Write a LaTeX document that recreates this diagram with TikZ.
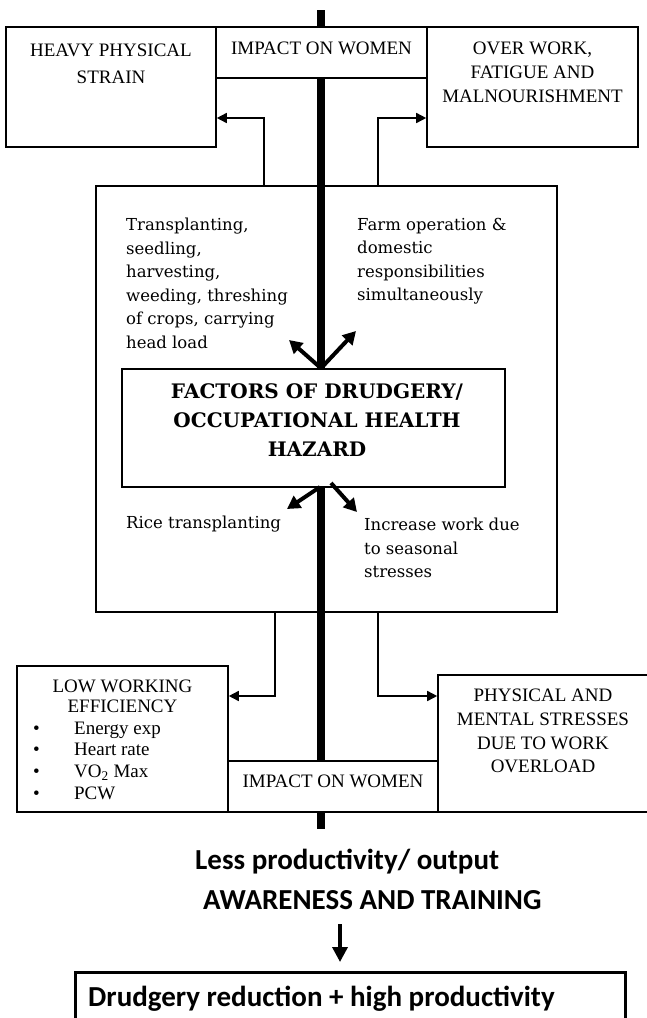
\documentclass[tikz,border=0pt]{standalone}
\usepackage{fontspec}
\setmainfont{Liberation Serif}
\newfontfamily\calib{Carlito}
\newfontfamily\dvs{DejaVu Serif}
\usetikzlibrary{arrows.meta}
\begin{document}
\begin{tikzpicture}[x=1pt,y=-1pt,
  box/.style={draw, line width=1.6pt, fill=white, inner sep=0pt},
  conn/.style={line width=1.6pt, -{Triangle[length=10pt,width=10pt]}},
  spine/.style={line width=7.5pt},
  fat/.style={line width=4pt, -{Triangle[length=13pt,width=14pt]}},
  tnr/.style={font=\fontsize{19}{23.5}\selectfont, align=center, inner sep=0pt, anchor=north},
  bk/.style={font=\dvs\fontsize{16.5}{23.5}\selectfont, align=left, inner sep=0pt, anchor=north west},
  cal/.style={font=\calib\bfseries\fontsize{29}{34}\selectfont, inner sep=0pt, anchor=west}]
\useasboundingbox (0,0) rectangle (646,1018);
\fill[white] (0,0) rectangle (646,1018);
% coordinates
\coordinate (top) at (321,10);
\coordinate (bot) at (321,829);
\coordinate (xa) at (264,0);
\coordinate (xb) at (378,0);
\coordinate (xc) at (275,0);
\coordinate (ya) at (0,118);
\coordinate (yb) at (0,696);
\coordinate (arEnd) at (340,962);
% big box
\node[box, minimum width=461pt, minimum height=426pt] (big) at (326.5,399) {};
\node[box, minimum width=383pt, minimum height=118pt] (fac) at (313.5,428) {};
% spine
\draw[spine] (top) -- (top |- fac.north);
\draw[spine] (top |- fac.south) -- (bot);
% top boxes
\node[box, minimum width=210pt, minimum height=120pt] (hps) at (111,87) {};
\node[box, minimum width=211pt, minimum height=51pt] (imp1) at (321.5,52.5) {};
\node[box, minimum width=211pt, minimum height=120pt] (ow) at (532.5,87) {};
% bottom boxes
\node[box, minimum width=211pt, minimum height=146pt] (lw) at (122.5,739) {};
\node[box, minimum width=210pt, minimum height=51pt] (imp2) at (333,786.5) {};
\node[box, minimum width=210pt, minimum height=137pt] (pm) at (543,743.5) {};
% texts
\node[tnr, font=\fontsize{19}{27}\selectfont] (t1) at (111,43.5) {HEAVY PHYSICAL\\STRAIN};
\node[tnr] (t2) at (321.5,41.5) {IMPACT ON WOMEN};
\node[tnr, font=\fontsize{19}{23.7}\selectfont] (t3) at (532.5,42) {OVER WORK,\\FATIGUE AND\\MALNOURISHMENT};
\node[tnr, font=\fontsize{19}{20}\selectfont] (t4) at (122.5,680) {LOW WORKING\\EFFICIENCY};
\node[tnr, anchor=north west, align=left, font=\fontsize{19}{21.7}\selectfont] (t5) at (33,721.5)
  {\makebox[41pt][l]{•}Energy exp\\\makebox[41pt][l]{•}Heart rate\\\makebox[41pt][l]{•}VO\textsubscript{2} Max\\\makebox[41pt][l]{•}PCW};
\node[tnr] (t6) at (333,775) {IMPACT ON WOMEN};
\node[tnr, font=\fontsize{19}{23.7}\selectfont] (t7) at (543,689) {PHYSICAL AND\\MENTAL STRESSES\\DUE TO WORK\\OVERLOAD};
\begin{scope}
\clip (96,186) rectangle (557,348);
\node[bk] (t8) at (126,218) {Transplanting,\\seedling,\\harvesting,\\weeding, threshing\\of crops, carrying\\head load};
\end{scope}
\node[bk] (t9) at (357,218) {Farm operation \&\\domestic\\responsibilities\\simultaneously};
\node[inner sep=0pt, anchor=north, align=center, font=\dvs\bfseries\fontsize{20}{29}\selectfont] (t10) at (317,383) {FACTORS OF DRUDGERY/\\OCCUPATIONAL HEALTH\\HAZARD};
\node[bk] (t11) at (126,516) {Rice transplanting};
\node[bk] (t12) at (364,518) {Increase work due\\to seasonal\\stresses};
% connectors
\draw[conn] (xa |- big.north) |- (hps.east |- ya);
\draw[conn] (xb |- big.north) |- (ow.west |- ya);
\draw[conn] (xc |- big.south) |- (lw.east |- yb);
\draw[conn] (xb |- big.south) |- (pm.west |- yb);
% diagonal arrows
\coordinate (d1) at (289,340);
\coordinate (d2) at (356,331);
\coordinate (d3) at (287,509);
\coordinate (d4) at (357,512);
\coordinate (s3) at (320,487);
\coordinate (s4) at (331,483);
\draw[fat] (top |- fac.north) -- (d1);
\draw[fat] (top |- fac.north) -- (d2);
\draw[fat] (s3) -- (d3);
\draw[fat] (s4) -- (d4);
% bottom
\node[cal] (less) at (195,862) {Less productivity/ output};
\node[cal] (aw) at (203,900) {AWARENESS AND TRAINING};
\node[draw, line width=3pt, minimum width=550pt, minimum height=70pt, inner sep=0pt] (fin) at (350,1007) {};
\node[cal] (fint) at (88,999) {Drudgery reduction + high productivity};
\coordinate (arStart) at (340,924);
\draw[line width=3.5pt, -{Triangle[length=15pt,width=15pt]}] (arStart) -- (arEnd);
\end{tikzpicture}
\end{document}
